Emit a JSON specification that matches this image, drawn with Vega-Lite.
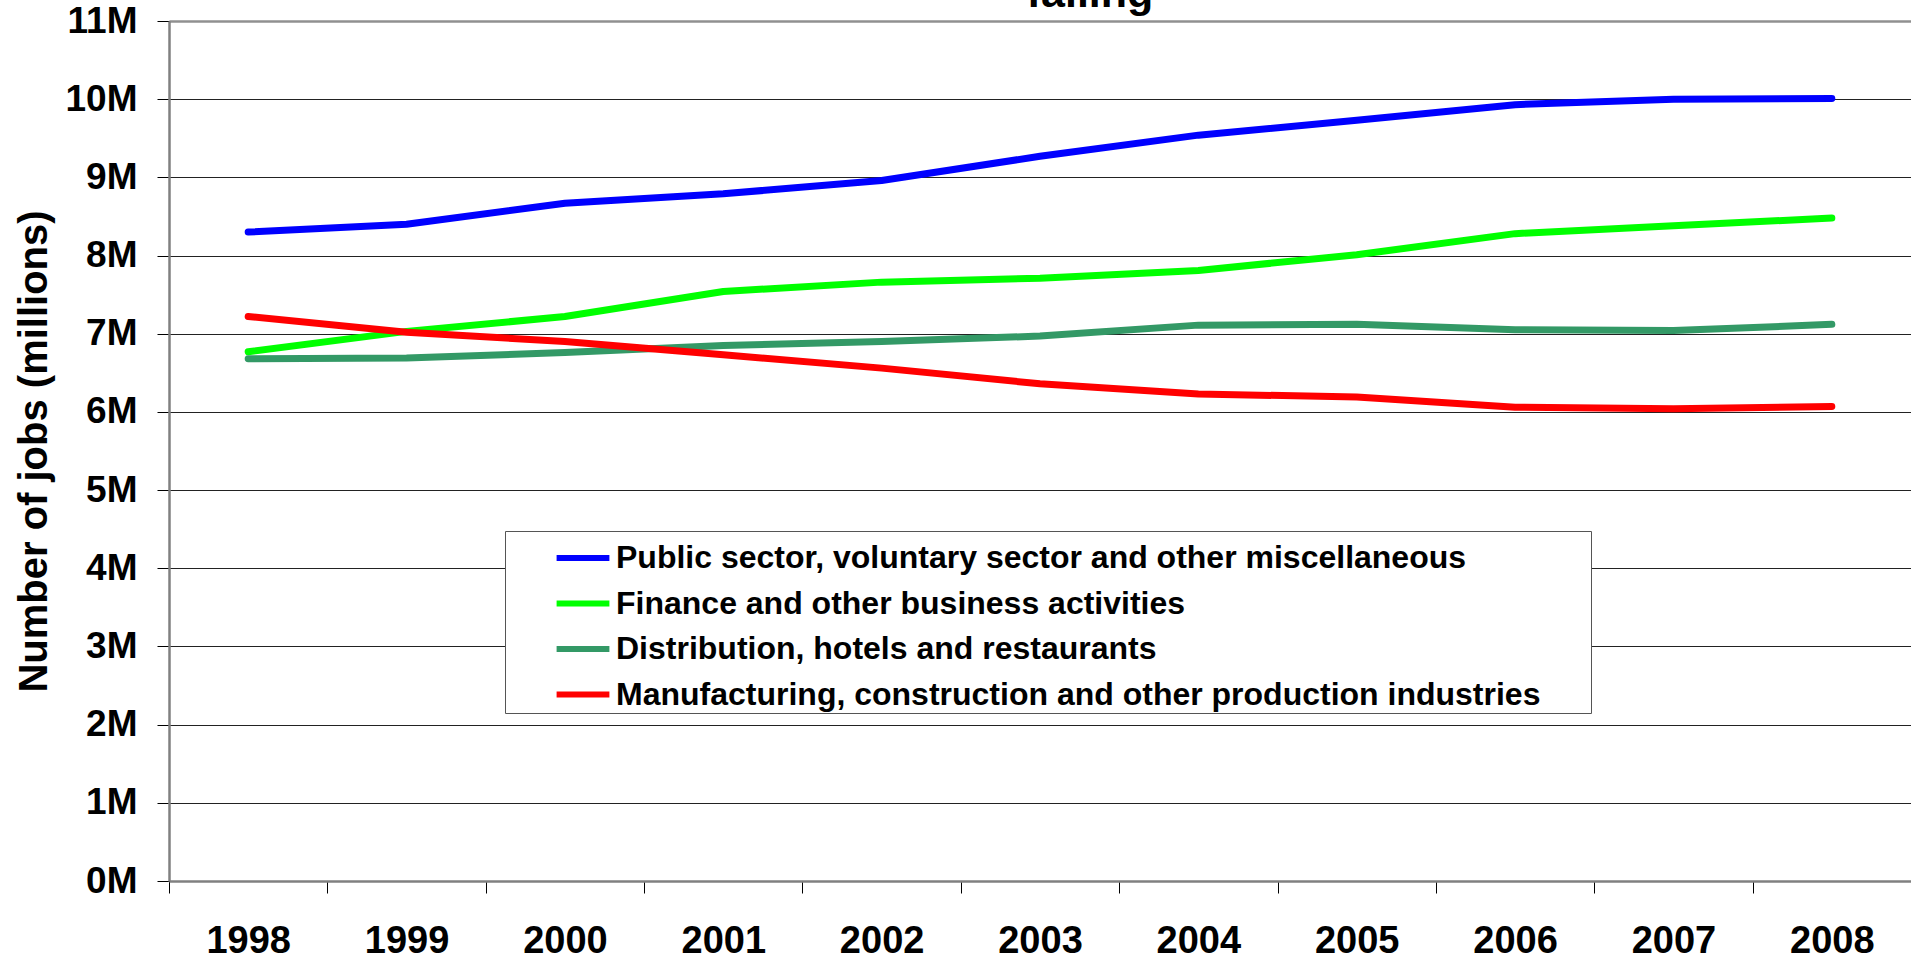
{
  "$schema": "https://vega.github.io/schema/vega-lite/v6.json",
  "autosize": {"type": "none"},
  "padding": {"left": 169, "top": 21, "right": 0, "bottom": 78},
  "width": 1742,
  "height": 860,
  "background": "white",
  "title": {
    "text": "falling",
    "fontSize": 43,
    "font": "Liberation Sans",
    "fontWeight": "bold",
    "color": "black",
    "anchor": "middle",
    "baseline": "alphabetic",
    "offset": -48,
    "dx": 50
  },
  "data": {
    "values": [
      {"year": "1998", "sector": "Public sector, voluntary sector and other miscellaneous", "jobs": 8.30},
      {"year": "1999", "sector": "Public sector, voluntary sector and other miscellaneous", "jobs": 8.40},
      {"year": "2000", "sector": "Public sector, voluntary sector and other miscellaneous", "jobs": 8.67},
      {"year": "2001", "sector": "Public sector, voluntary sector and other miscellaneous", "jobs": 8.79},
      {"year": "2002", "sector": "Public sector, voluntary sector and other miscellaneous", "jobs": 8.96},
      {"year": "2003", "sector": "Public sector, voluntary sector and other miscellaneous", "jobs": 9.27},
      {"year": "2004", "sector": "Public sector, voluntary sector and other miscellaneous", "jobs": 9.54},
      {"year": "2005", "sector": "Public sector, voluntary sector and other miscellaneous", "jobs": 9.73},
      {"year": "2006", "sector": "Public sector, voluntary sector and other miscellaneous", "jobs": 9.93},
      {"year": "2007", "sector": "Public sector, voluntary sector and other miscellaneous", "jobs": 10.00},
      {"year": "2008", "sector": "Public sector, voluntary sector and other miscellaneous", "jobs": 10.01},
      {"year": "1998", "sector": "Finance and other business activities", "jobs": 6.77},
      {"year": "1999", "sector": "Finance and other business activities", "jobs": 7.03},
      {"year": "2000", "sector": "Finance and other business activities", "jobs": 7.22},
      {"year": "2001", "sector": "Finance and other business activities", "jobs": 7.54},
      {"year": "2002", "sector": "Finance and other business activities", "jobs": 7.66},
      {"year": "2003", "sector": "Finance and other business activities", "jobs": 7.71},
      {"year": "2004", "sector": "Finance and other business activities", "jobs": 7.81},
      {"year": "2005", "sector": "Finance and other business activities", "jobs": 8.01},
      {"year": "2006", "sector": "Finance and other business activities", "jobs": 8.28},
      {"year": "2007", "sector": "Finance and other business activities", "jobs": 8.38},
      {"year": "2008", "sector": "Finance and other business activities", "jobs": 8.48},
      {"year": "1998", "sector": "Distribution, hotels and restaurants", "jobs": 6.68},
      {"year": "1999", "sector": "Distribution, hotels and restaurants", "jobs": 6.69},
      {"year": "2000", "sector": "Distribution, hotels and restaurants", "jobs": 6.76},
      {"year": "2001", "sector": "Distribution, hotels and restaurants", "jobs": 6.85},
      {"year": "2002", "sector": "Distribution, hotels and restaurants", "jobs": 6.90},
      {"year": "2003", "sector": "Distribution, hotels and restaurants", "jobs": 6.97},
      {"year": "2004", "sector": "Distribution, hotels and restaurants", "jobs": 7.11},
      {"year": "2005", "sector": "Distribution, hotels and restaurants", "jobs": 7.12},
      {"year": "2006", "sector": "Distribution, hotels and restaurants", "jobs": 7.05},
      {"year": "2007", "sector": "Distribution, hotels and restaurants", "jobs": 7.04},
      {"year": "2008", "sector": "Distribution, hotels and restaurants", "jobs": 7.12},
      {"year": "1998", "sector": "Manufacturing, construction and other production industries", "jobs": 7.22},
      {"year": "1999", "sector": "Manufacturing, construction and other production industries", "jobs": 7.02},
      {"year": "2000", "sector": "Manufacturing, construction and other production industries", "jobs": 6.90},
      {"year": "2001", "sector": "Manufacturing, construction and other production industries", "jobs": 6.73},
      {"year": "2002", "sector": "Manufacturing, construction and other production industries", "jobs": 6.56},
      {"year": "2003", "sector": "Manufacturing, construction and other production industries", "jobs": 6.36},
      {"year": "2004", "sector": "Manufacturing, construction and other production industries", "jobs": 6.23},
      {"year": "2005", "sector": "Manufacturing, construction and other production industries", "jobs": 6.19},
      {"year": "2006", "sector": "Manufacturing, construction and other production industries", "jobs": 6.06},
      {"year": "2007", "sector": "Manufacturing, construction and other production industries", "jobs": 6.04},
      {"year": "2008", "sector": "Manufacturing, construction and other production industries", "jobs": 6.07}
    ]
  },
  "mark": {"type": "line", "strokeWidth": 7, "strokeCap": "round", "strokeJoin": "round"},
  "encoding": {
    "x": {
      "field": "year",
      "type": "ordinal",
      "scale": {"type": "band", "paddingInner": 0, "paddingOuter": 0},
      "axis": {
        "title": null,
        "labelAngle": 0,
        "tickBand": "extent",
        "tickSize": 12,
        "tickColor": "black",
        "tickWidth": 1,
        "domainColor": "#808080",
        "domainWidth": 2.5,
        "labelFont": "Liberation Sans",
        "labelFontWeight": "bold",
        "labelFontSize": 38,
        "labelColor": "black",
        "labelPadding": 29,
        "grid": false
      }
    },
    "y": {
      "field": "jobs",
      "type": "quantitative",
      "scale": {"domain": [0, 11], "nice": false},
      "axis": {
        "title": "Number of jobs (millions)",
        "titleFont": "Liberation Sans",
        "titleFontWeight": "bold",
        "titleFontSize": 40,
        "titleColor": "black",
        "titlePadding": 11,
        "values": [0, 1, 2, 3, 4, 5, 6, 7, 8, 9, 10, 11],
        "labelExpr": "datum.value + 'M'",
        "labelFont": "Liberation Sans",
        "labelFontWeight": "bold",
        "labelFontSize": 37,
        "labelColor": "black",
        "labelPadding": 20,
        "tickSize": 12,
        "tickColor": "black",
        "tickWidth": 1,
        "domainColor": "#808080",
        "domainWidth": 2.5,
        "grid": true,
        "gridColor": {"condition": {"test": "datum.value == 11 || datum.value == 0", "value": "#909090"}, "value": "#222222"},
        "gridWidth": {"condition": {"test": "datum.value == 11", "value": 2.5}, "value": 1.2}
      }
    },
    "color": {
      "field": "sector",
      "type": "nominal",
      "scale": {
        "domain": [
          "Public sector, voluntary sector and other miscellaneous",
          "Finance and other business activities",
          "Distribution, hotels and restaurants",
          "Manufacturing, construction and other production industries"
        ],
        "range": ["#0000FF", "#00FF00", "#339966", "#FF0000"]
      },
      "legend": {
        "orient": "none",
        "legendX": 336,
        "legendY": 510,
        "title": " ",
        "titleOrient": "right",
        "titleFontSize": 1,
        "titlePadding": 49,
        "padding": 2,
        "rowPadding": 4.5,
        "symbolType": "M-1.2,0H1.2",
        "symbolSize": 1936,
        "symbolStrokeWidth": 6,
        "symbolOffset": 51,
        "labelOffset": 8,
        "labelFont": "Liberation Sans",
        "labelFontWeight": "bold",
        "labelFontSize": 32,
        "labelColor": "black",
        "labelLimit": 2000,
        "fillColor": "white",
        "strokeColor": "#555555"
      }
    }
  },
  "config": {
    "view": {"stroke": null}
  }
}
